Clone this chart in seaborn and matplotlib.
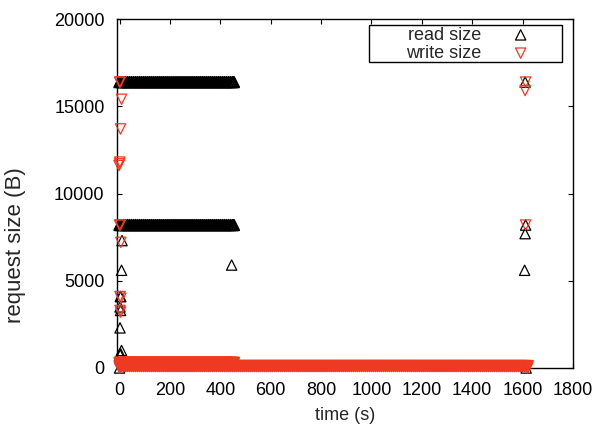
import numpy as np
import pandas as pd
import matplotlib
matplotlib.use("Agg")
import matplotlib.pyplot as plt
from matplotlib.patches import Rectangle
import seaborn as sns

# ---------------- data ----------------
# dense bands of requests in the first ~450 s (times, seconds)
band_t = [0, 8, 16, 24, 32, 40, 48, 56, 64, 72, 80, 88, 96, 104, 112, 120, 128,
          136, 144, 152, 160, 168, 176, 184, 192, 200, 208, 216, 224, 232, 240,
          248, 256, 264, 272, 280, 288, 296, 304, 312, 320, 328, 336, 344, 352,
          360, 368, 376, 384, 392, 400, 408, 416, 424, 432, 440, 448, 454]
# small-write band over the whole run (times, seconds)
low_t = [0, 8, 16, 24, 32, 40, 48, 56, 64, 72, 80, 88, 96, 104, 112, 120, 128,
         136, 144, 152, 160, 168, 176, 184, 192, 200, 208, 216, 224, 232, 240,
         248, 256, 264, 272, 280, 288, 296, 304, 312, 320, 328, 336, 344, 352,
         360, 368, 376, 384, 392, 400, 408, 416, 424, 432, 440, 448, 456, 464,
         472, 480, 488, 496, 504, 512, 520, 528, 536, 544, 552, 560, 568, 576,
         584, 592, 600, 608, 616, 624, 632, 640, 648, 656, 664, 672, 680, 688,
         696, 704, 712, 720, 728, 736, 744, 752, 760, 768, 776, 784, 792, 800,
         808, 816, 824, 832, 840, 848, 856, 864, 872, 880, 888, 896, 904, 912,
         920, 928, 936, 944, 952, 960, 968, 976, 984, 992, 1000, 1008, 1016,
         1024, 1032, 1040, 1048, 1056, 1064, 1072, 1080, 1088, 1096, 1104, 1112,
         1120, 1128, 1136, 1144, 1152, 1160, 1168, 1176, 1184, 1192, 1200, 1208,
         1216, 1224, 1232, 1240, 1248, 1256, 1264, 1272, 1280, 1288, 1296, 1304,
         1312, 1320, 1328, 1336, 1344, 1352, 1360, 1368, 1376, 1384, 1392, 1400,
         1408, 1416, 1424, 1432, 1440, 1448, 1456, 1464, 1472, 1480, 1488, 1496,
         1504, 1512, 1520, 1528, 1536, 1544, 1552, 1560, 1568, 1576, 1584, 1592,
         1600, 1608, 1616, 1620]

read_big_size = 16384
read_mid_size = 8192
write_band_size = 300
write_low_size = 110

# scattered reads (time s, size B)
read_extra_t = [0, 1, 10, 8, 3, 5, 2, 4, 2, 8, 1, 5, 0, 445,
                1610, 1612, 1610, 1608, 1614]
read_extra_sz = [16384, 8192, 7300, 5600, 4096, 4096, 3500, 3300, 2300, 1000,
                 800, 800, 0, 5900,
                 16384, 8192, 7700, 5600, 0]
# scattered writes (time s, size B)
write_extra_t = [0, 3, 8, 4, 0, -2, 1, 0, 3, 5, 2, 5, 2, 4, 0,
                 1612, 1610, 1612, 1620]
write_extra_sz = [16384, 16384, 15400, 13700, 11700, 11600, 11800, 8192, 8192,
                  7200, 4096, 4000, 3300, 3200, 0,
                  16384, 15900, 8192, 0]

x_ticks = [0, 200, 400, 600, 800, 1000, 1200, 1400, 1600, 1800]
y_ticks = [0, 5000, 10000, 15000, 20000]

# ---------------- assemble ----------------
band_reads = pd.DataFrame({
    "time": band_t + band_t,
    "size": [read_big_size] * len(band_t) + [read_mid_size] * len(band_t)})
extra_reads = pd.DataFrame({"time": read_extra_t, "size": read_extra_sz})
band_writes = pd.DataFrame({
    "time": band_t + low_t,
    "size": [write_band_size] * len(band_t) + [write_low_size] * len(low_t)})
extra_writes = pd.DataFrame({"time": write_extra_t, "size": write_extra_sz})

# ---------------- style ----------------
sns.set_style("ticks")
plt.rcParams["font.family"] = ["Liberation Sans", "DejaVu Sans"]
plt.rcParams["font.size"] = 13

RED = "#EE3A22"

fig = plt.figure(figsize=(5.96, 4.24), dpi=100)
ax = fig.add_axes([117 / 596, 1 - 368 / 424, 456 / 596, 349 / 424])

common = dict(ax=ax, s=55, facecolor="none", clip_on=False, x="time", y="size")
sns.scatterplot(data=band_reads, marker="^", edgecolor="black", linewidth=1.5,
                zorder=3, **common)
sns.scatterplot(data=extra_reads, marker="^", edgecolor="black", linewidth=0.9,
                zorder=3, label="read size", **common)
sns.scatterplot(data=band_writes, marker="v", edgecolor=RED, linewidth=1.5,
                zorder=4, **common)
sns.scatterplot(data=extra_writes, marker="v", edgecolor=RED, linewidth=0.9,
                zorder=4, label="write size", **common)

ax.set_xlim(-10, 1800)
ax.set_ylim(0, 20000)
ax.set_xticks(x_ticks)
ax.set_yticks(y_ticks)
ax.set_xticklabels([str(v) for v in x_ticks])
ax.set_yticklabels([str(v) for v in y_ticks])

ax.tick_params(direction="in", length=3.6, width=0.8, top=True, right=True,
               labelsize=13, colors="black")
ax.tick_params(axis="x", pad=10)
ax.tick_params(axis="y", pad=9)
for sp in ax.spines.values():
    sp.set_visible(True)
    sp.set_linewidth(1.0)
    sp.set_color("black")

ax.set_xlabel("time (s)", fontsize=13)
ax.set_ylabel("request size (B)", fontsize=16)
ax.xaxis.set_label_coords(0.5, -0.112)
ax.yaxis.set_label_coords(-0.2, 0.352)

# legend frame (gnuplot style box)
box = Rectangle(((369 - 117) / 456, (368 - 62) / 349), 193 / 456, 37 / 349,
                transform=ax.transAxes, facecolor="white", edgecolor="black",
                linewidth=1.0, zorder=9, clip_on=False)
ax.add_patch(box)

leg = ax.legend(loc="upper right", bbox_to_anchor=((562 - 117) / 456, (368 - 25) / 349),
                markerfirst=False, frameon=False, fontsize=13,
                handlelength=4.4, handletextpad=0.0, labelspacing=0.07,
                borderpad=0.09, borderaxespad=0.0)
leg.set_zorder(10)
try:
    for col in leg._legend_handle_box.get_children():
        col.align = "right"
except Exception:
    pass

fig.savefig("out.png", dpi=100)
